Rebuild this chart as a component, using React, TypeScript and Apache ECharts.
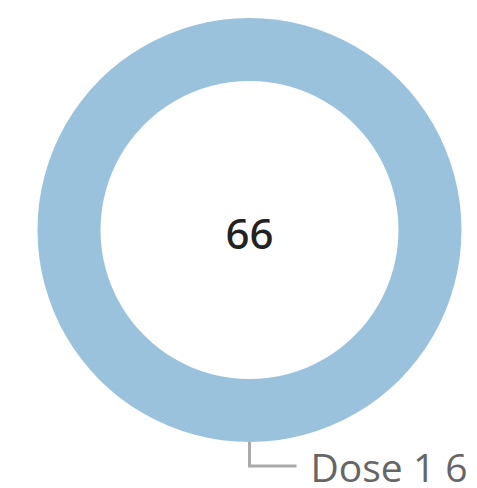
import React, { useEffect, useRef } from "react";
import * as echarts from "echarts";

const sliceNames = ["Dose 1"];
const sliceValues = [6];
const centerValue = "66";

export default function App() {
  const ref = useRef<HTMLDivElement>(null);
  useEffect(() => {
    if (!ref.current) return;
    const chart = echarts.init(ref.current, undefined, { renderer: "svg" });
    chart.setOption({
      animation: false,
      graphic: [
        {
          type: "text",
          x: 249.5,
          y: 232,
          style: {
            text: centerValue,
            font: '500 42px "Noto Sans", "Open Sans", sans-serif',
            fill: "#222222",
            align: "center",
            verticalAlign: "middle",
          },
        },
      ],
      series: [
        {
          type: "pie",
          center: [249.5, 230],
          radius: [149, 212],
          startAngle: 90,
          silent: true,
          itemStyle: { color: "#9bc2dc" },
          label: {
            show: true,
            formatter: "{b} {c}",
            color: "#666666",
            fontSize: 39,
            lineHeight: 36,
            fontFamily: '"Open Sans", sans-serif',
            distanceToLabelLine: 14,
            overflow: "none",
          },
          labelLine: {
            show: true,
            length: 24,
            length2: 47,
            lineStyle: { color: "#aaaaaa", width: 3 },
          },
          data: sliceNames.map((n, i) => ({ name: n, value: sliceValues[i] })),
        },
      ],
    });
    return () => chart.dispose();
  }, []);
  return <div ref={ref} style={{ width: 477, height: 488, position: "absolute", left: 0, top: 0 }} />;
}
